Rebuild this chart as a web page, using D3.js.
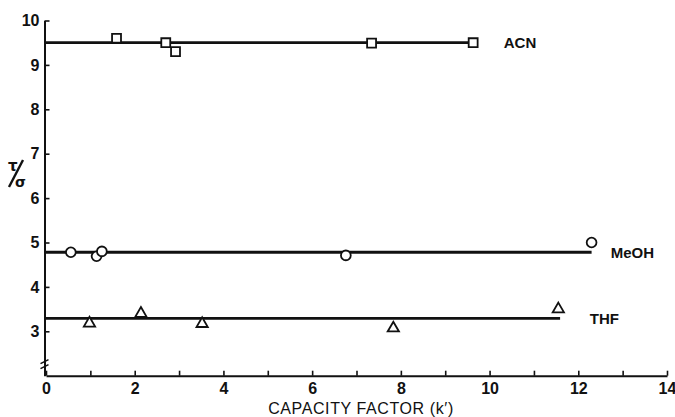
<!DOCTYPE html>
<html>
<head>
<meta charset="utf-8">
<script src="https://cdn.jsdelivr.net/npm/d3@7"></script>
<style>
  html, body { margin: 0; padding: 0; background: #fff; }
  svg { display: block; }
  .tick text { font-family: "Liberation Sans Narrow", "Liberation Sans", sans-serif; font-weight: bold; font-size: 16px; fill: #111; }
</style>
</head>
<body>
<script>
// ---- data ----
const xTicks = d3.range(0, 15, 1);
const yTicks = [3, 4, 5, 6, 7, 8, 9, 10];
const seriesNames = ["ACN", "MeOH", "THF"];
const acnX = [1.59, 2.70, 2.92, 7.34, 9.63];
const acnY = [9.60, 9.50, 9.30, 9.49, 9.50];
const meohX = [0.56, 1.14, 1.26, 6.76, 12.30];
const meohY = [4.78, 4.69, 4.80, 4.71, 5.00];
const thfX = [0.98, 2.14, 3.52, 7.83, 11.55];
const thfY = [3.18, 3.40, 3.17, 3.07, 3.50];
const fitLevels = [9.50, 4.78, 3.29];     // horizontal mean lines
const fitEnds = [9.63, 12.30, 11.59];      // x where each line ends

const W = 675, H = 417;
const svg = d3.select("body").append("svg").attr("width", W).attr("height", H);

const x = d3.scaleLinear().domain([0, 14]).range([46, 667]);
const y = d3.scaleLinear().domain([2, 10]).range([375.7, 20.5]);

// axes
const xAxis = d3.axisBottom(x).tickValues(xTicks).tickSize(-5).tickSizeOuter(0).tickPadding(5)
  .tickFormat(d => d % 2 === 0 ? d : "");
const gx = svg.append("g").attr("transform", `translate(0,${y(2)})`).call(xAxis);
gx.select(".domain").attr("stroke", "#111").attr("stroke-width", 2);
gx.selectAll(".tick line").attr("stroke", "#111").attr("stroke-width", 1.6);
gx.selectAll(".tick text").attr("dy", "0.85em");

const yAxis = d3.axisLeft(y).tickValues(yTicks).tickSize(-5).tickSizeOuter(0).tickPadding(5);
const gy = svg.append("g").attr("transform", `translate(${x(0) - 1.5},0)`).call(yAxis);
gy.select(".domain").attr("stroke", "#111").attr("stroke-width", 2);
gy.selectAll(".tick line").attr("stroke", "#111").attr("stroke-width", 1.6);

// axis break mark
const bx = x(0) - 1.5, by = y(2.25);
svg.append("path")
  .attr("d", `M${bx - 4},${by - 1} L${bx + 4},${by - 5} M${bx - 4},${by + 4} L${bx + 4},${by}`)
  .attr("stroke", "#111").attr("stroke-width", 1.6).attr("fill", "none");

// mean lines
fitLevels.forEach((lv, i) => {
  svg.append("line")
    .attr("x1", x(0)).attr("x2", x(fitEnds[i]))
    .attr("y1", y(lv)).attr("y2", y(lv))
    .attr("stroke", "#111").attr("stroke-width", 2.8);
});

// markers
const sq = d3.symbol().type(d3.symbolSquare).size(80);
const ci = d3.symbol().type(d3.symbolCircle).size(75);
const tr = d3.symbol().type(d3.symbolTriangle).size(55);
function plot(xs, ys, sym) {
  svg.append("g").selectAll("path").data(xs.map((v, i) => [v, ys[i]])).join("path")
    .attr("d", sym)
    .attr("transform", d => `translate(${x(d[0])},${y(d[1])})`)
    .attr("fill", "#fff").attr("stroke", "#111").attr("stroke-width", 1.8);
}
plot(acnX, acnY, sq);
plot(meohX, meohY, ci);
plot(thfX, thfY, tr);

// series labels
const lab = [[10.32, 9.50], [12.73, 4.78], [12.26, 3.29]];
seriesNames.forEach((n, i) => {
  svg.append("text").attr("x", x(lab[i][0])).attr("y", y(lab[i][1]))
    .attr("dy", "0.36em")
    .style("font-family", "'Liberation Sans', Arial, sans-serif").style("font-weight", "bold")
    .style("font-size", "15px").attr("fill", "#111").text(n);
});

// x title
svg.append("text").attr("x", 361).attr("y", 414).attr("text-anchor", "middle")
  .style("font-family", "'Liberation Sans', Arial, sans-serif").style("font-size", "16px")
  .style("letter-spacing", "0.6px").attr("fill", "#111").text("CAPACITY FACTOR (k′)");

// y title  τ/σ
const yt = svg.append("g").attr("fill", "#111")
  .style("font-family", "'DejaVu Sans', sans-serif").style("font-weight", "bold");
yt.append("text").attr("x", 8).attr("y", 171).style("font-size", "15px").text("τ");
yt.append("line").attr("x1", 9).attr("y1", 187).attr("x2", 23).attr("y2", 160)
  .attr("stroke", "#111").attr("stroke-width", 2.4);
yt.append("text").attr("x", 15).attr("y", 187).style("font-size", "14px").text("σ");
</script>
</body>
</html>
